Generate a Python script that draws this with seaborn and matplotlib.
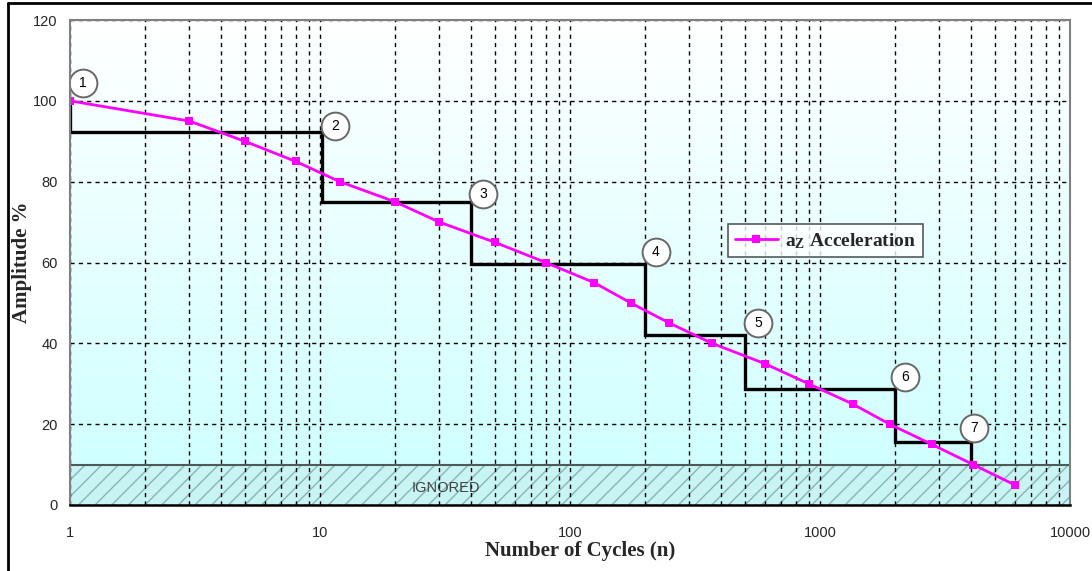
import numpy as np
import pandas as pd
import matplotlib
matplotlib.use("Agg")
import matplotlib.pyplot as plt
import seaborn as sns
from matplotlib.lines import Line2D

# ---- data ----
cycles = [1, 3, 5, 8, 12, 20, 30, 50, 80, 125, 175, 250, 370, 600, 900, 1350, 1900, 2800, 4100, 6000]
amplitude = [100, 95, 90, 85, 80, 75, 70, 65, 60, 55, 50, 45, 40, 35, 30, 25, 20, 15, 10, 5]

step_edges = [1, 10.2, 40, 200, 500, 2000, 4000]
step_levels = [92.2, 75, 59.6, 42, 28.6, 15.5]
step_start = 100
step_end = 10

label_text = ["1", "2", "3", "4", "5", "6", "7"]
label_x = [1.124, 11.48, 44.8, 220, 566, 2194, 4130]
label_y = [104.5, 93.8, 76.9, 62.5, 45.1, 31.7, 19.1]

x_ticks = [1, 10, 100, 1000, 10000]
x_tick_labels = ["1", "10", "100", "1000", "10000"]
y_ticks = [0, 20, 40, 60, 80, 100, 120]
ignored_limit = 10

sns.set_style("white")
plt.rcParams['font.family'] = ['Liberation Sans', 'DejaVu Sans']
plt.rcParams['hatch.linewidth'] = 1.0
plt.rcParams['mathtext.fontset'] = 'custom'
plt.rcParams['mathtext.rm'] = 'Liberation Serif:bold'
plt.rcParams['mathtext.bf'] = 'Liberation Serif:bold'
plt.rcParams['mathtext.it'] = 'Liberation Serif:bold'

W, H = 1092, 571
fig = plt.figure(figsize=(W / 100, H / 100), dpi=100)
fig.patch.set_facecolor("white")
ax = fig.add_axes([70 / W, 1 - 505 / H, 1000 / W, 485 / H])

# gradient background
grad = np.linspace(0, 1, 256).reshape(-1, 1)
top = np.array([1.0, 1.0, 1.0])
bot = np.array([0.80, 1.0, 1.0])
img = top[None, None, :] * (1 - grad[:, :, None]) + bot[None, None, :] * grad[:, :, None]
ax.imshow(img, extent=[0, 1, 0, 1], transform=ax.transAxes, aspect="auto", zorder=0)

ax.set_xscale("log")
ax.set_xlim(1, 10000)
ax.set_ylim(0, 120)

# ignored band
ax.axhspan(0, ignored_limit, facecolor="#c8f4f4", edgecolor="#88b4b4", hatch="//", linewidth=0, zorder=1)
ax.axhline(ignored_limit, color="#505858", lw=1.5, zorder=2)
ax.text(32, 4.3, "IGNORED", ha="center", va="center", fontsize=10.5, color="#404040", zorder=3)

# grid
ax.set_yticks(y_ticks)
ax.set_xticks(x_ticks)
ax.set_xticklabels(x_tick_labels)
ax.xaxis.set_minor_locator(matplotlib.ticker.LogLocator(base=10, subs=np.arange(2, 10)))
ax.xaxis.set_minor_formatter(matplotlib.ticker.NullFormatter())
ax.grid(True, which="both", axis="x", color="black", linestyle=(0, (3, 3)), linewidth=1, zorder=2)
ax.grid(True, which="major", axis="y", color="black", linestyle=(0, (3, 3)), linewidth=1, zorder=2)
ax.set_axisbelow(False)
for gl in ax.get_xgridlines() + ax.get_ygridlines():
    gl.set_zorder(2)

# step line
sx, sy = [step_edges[0]], [step_start]
for i, lev in enumerate(step_levels):
    sx += [step_edges[i], step_edges[i + 1]]
    sy += [lev, lev]
sx.append(step_edges[-1])
sy.append(step_end)
ax.plot(sx, sy, color="black", lw=2.4, zorder=4, solid_joinstyle="miter")

# main series
df = pd.DataFrame({"cycles": cycles, "amplitude": amplitude})
sns.lineplot(data=df, x="cycles", y="amplitude", ax=ax, color="#ff00ff", lw=2,
             marker="s", markersize=6, markeredgewidth=0, zorder=5, legend=False)

# numbered circles
for t, lx, ly in zip(label_text, label_x, label_y):
    ax.scatter([lx], [ly], s=400, facecolor="white", edgecolor="#686868", linewidth=1.4, zorder=6)
    ax.text(lx, ly, t, ha="center", va="center", fontsize=10, color="black", zorder=7)

# spines & ticks
for s in ["left", "top", "right"]:
    ax.spines[s].set_color("#808080")
    ax.spines[s].set_linewidth(1.5)
ax.spines["bottom"].set_color("black")
ax.spines["bottom"].set_linewidth(1.8)
for s in ax.spines.values():
    s.set_zorder(8)
ax.tick_params(axis="both", which="major", direction="out", length=5, width=1, color="#404040",
               labelsize=10.5, pad=4)
ax.tick_params(axis="x", which="minor", length=0)
ax.tick_params(axis="x", pad=10)

ax.set_xlabel("Number of Cycles (n)", fontsize=15, fontweight="bold", family="Liberation Serif")
ax.xaxis.set_label_coords((580 - 70) / 1000, -(551 - 505) / 485)
ax.set_ylabel("Amplitude %", fontsize=15, fontweight="bold", family="Liberation Serif")
ax.yaxis.set_label_coords(-(70 - 22) / 1000, (505 - 262) / 485)
ax.xaxis.label.set_va("center")
ax.yaxis.label.set_va("center")

# legend
handle = Line2D([0], [0], color="#ff00ff", lw=2, marker="s", markersize=6, markeredgewidth=0)
leg = ax.legend([handle], [r"$\mathbf{a_Z}$ Acceleration"], loc="upper left",
                bbox_to_anchor=((728 - 70) / 1000, (505 - 224) / 485), frameon=True, fancybox=False,
                prop={"family": "Liberation Serif", "weight": "bold", "size": 14},
                handlelength=2.2, handletextpad=0.4, borderpad=0.35, borderaxespad=0)
leg.get_frame().set_edgecolor("#303030")
leg.get_frame().set_linewidth(1.2)
leg.set_zorder(9)

# chart-area border: left and top edges only (as visible in the reference)
fig.add_artist(Line2D([8 / W, 8 / W], [0, 1 - 3 / H], transform=fig.transFigure, color="black", lw=2))
fig.add_artist(Line2D([8 / W, 1], [1 - 3 / H, 1 - 3 / H], transform=fig.transFigure, color="black", lw=2))

fig.savefig("out.png", dpi=100)
